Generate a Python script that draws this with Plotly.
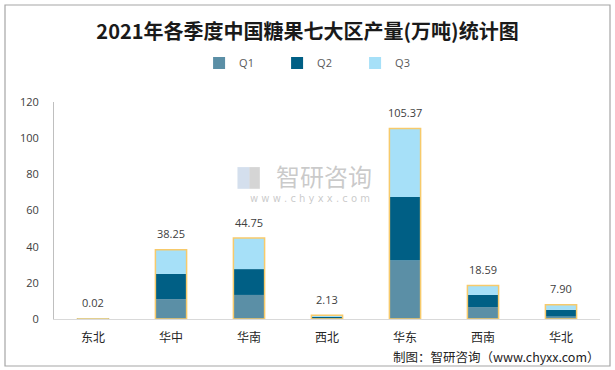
import plotly.graph_objects as go

categories = ["东北", "华中", "华南", "西北", "华东", "西南", "华北"]
q1 = [0.01, 11.0, 13.3, 0.6, 32.4, 6.6, 1.3]
q2 = [0.005, 13.9, 14.3, 1.0, 35.0, 6.7, 3.8]
q3 = [0.005, 13.35, 17.15, 0.53, 37.97, 5.29, 2.8]
totals = [0.02, 38.25, 44.75, 2.13, 105.37, 18.59, 7.90]
total_labels = ["0.02", "38.25", "44.75", "2.13", "105.37", "18.59", "7.90"]
y_ticks = [0, 20, 40, 60, 80, 100, 120]

c1, c2, c3 = "#5b8fa6", "#005f85", "#a6e0f8"
gold = "#f7ca6b"

base2 = [a for a in q1]
base3 = [a + b for a, b in zip(q1, q2)]

fig = go.Figure()
fig.add_trace(go.Bar(name="Q1", x=categories, y=q1, marker=dict(color=c1, line=dict(width=0))))
fig.add_trace(go.Bar(name="Q2", x=categories, y=q2, base=base2, marker=dict(color=c2, line=dict(width=0))))
fig.add_trace(go.Bar(name="Q3", x=categories, y=q3, base=base3, marker=dict(color=c3, line=dict(width=0))))
fig.add_trace(go.Bar(name="合计", x=categories, y=totals, showlegend=False, hoverinfo="skip",
                     marker=dict(color="rgba(0,0,0,0)", line=dict(color=gold, width=1.5))))

for cat, t, lab in zip(categories, totals, total_labels):
    fig.add_annotation(x=cat, y=t, text=lab, showarrow=False, yshift=16,
                       font=dict(family="Open Sans, Noto Sans CJK SC", size=11, color="#404040"))

# watermark
fig.add_shape(type="rect", xref="paper", yref="paper", x0=0.336, x1=0.358, y0=0.60, y1=0.70,
              fillcolor="rgba(160,185,215,0.45)", line=dict(width=0), layer="below")
fig.add_shape(type="rect", xref="paper", yref="paper", x0=0.358, x1=0.377, y0=0.60, y1=0.70,
              fillcolor="rgba(150,150,150,0.40)", line=dict(width=0), layer="below")
fig.add_annotation(xref="paper", yref="paper", x=0.494, y=0.66, text="智研咨询",
                   showarrow=False, font=dict(family="Noto Sans CJK SC", size=24, color="rgba(150,150,150,0.5)"))
fig.add_annotation(xref="paper", yref="paper", x=0.468, y=0.555, text="w w w . c h y x x . c o m",
                   showarrow=False, font=dict(family="DejaVu Sans", size=10, color="rgba(150,150,150,0.5)"))

# footer
fig.add_annotation(xref="paper", yref="paper", x=1.003, y=(319 - 356) / 217, xanchor="right", yanchor="middle",
                   text="制图：智研咨询（www.chyxx.com）", showarrow=False,
                   font=dict(family="Noto Sans CJK SC", size=12.5, color="#222222"))

# outer border
fig.add_shape(type="rect", xref="paper", yref="paper",
              x0=(5 - 54) / 546, x1=(610 - 54) / 546, y0=(319 - 366) / 217, y1=(319 - 5) / 217,
              line=dict(color="#a6a6a6", width=1.2), fillcolor="rgba(0,0,0,0)", layer="below")

fig.update_layout(
    width=615, height=370,
    margin=dict(l=54, r=15, t=102, b=51, autoexpand=False),
    paper_bgcolor="white", plot_bgcolor="white",
    barmode="overlay", bargap=0.6,
    title=dict(text="2021年各季度中国糖果七大区产量(万吨)统计图", x=0.5, xanchor="center",
               y=1 - 32 / 370, yanchor="middle",
               font=dict(family="Noto Sans CJK SC", size=20, color="#1a1a1a", weight="bold")),
    legend=dict(orientation="h", x=0.48, xanchor="center", yref="container", y=1 - 63 / 370, yanchor="middle",
                font=dict(family="Open Sans", size=11, color="#595959"), entrywidth=33,
                traceorder="normal"),
    showlegend=True,
)
fig.update_xaxes(showline=True, linecolor="#d9d9d9", linewidth=1, ticks="", showgrid=False,
                 tickfont=dict(family="Noto Sans CJK SC", size=12, color="#262626"),
                 ticklabelstandoff=8, automargin=False)
fig.update_yaxes(range=[0, 120], tickvals=y_ticks, showline=True, linecolor="#bfbfbf", linewidth=1,
                 showgrid=False, zeroline=False, ticks="",
                 tickfont=dict(family="Open Sans", size=11, color="#404040"), ticklabelstandoff=12,
                 automargin=False)

fig.write_html("out.html", config={"displayModeBar": False},
               post_script="document.body.style.margin='0';document.body.style.overflow='hidden';")
